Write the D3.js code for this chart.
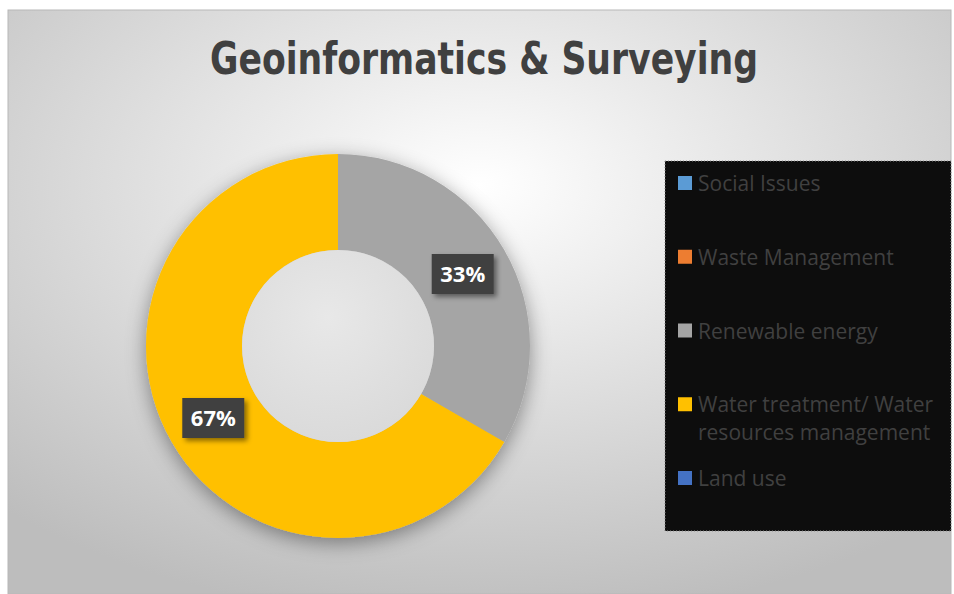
<html>
<head>
<meta charset="utf8">
<title>Geoinformatics & Surveying</title>
<style>
body { margin:0; background:#ffffff; }
#chart { width:954px; height:594px; }
</style>
<script src="https://cdn.jsdelivr.net/npm/d3@7"></script>
</head>
<body>
<div id="chart"></div>
<script>
// data
var categories = ["Social Issues", "Waste Management", "Renewable energy",
                  "Water treatment/ Water resources management", "Land use"];
var values = [0, 0, 1, 2, 0];
var colors = ["#5b9bd5", "#ed7d31", "#a5a5a5", "#ffc000", "#4472c4"];
var title = "Geoinformatics & Surveying";

var width = 954, height = 594;
var cx = 338, cy = 346;       // donut centre
var outerR = 192, innerR = 96;

var svg = d3.select("#chart").append("svg")
    .attr("width", width)
    .attr("height", height);

var defs = svg.append("defs");

// background gradient
var bg = defs.append("radialGradient").attr("id", "bg")
    .attr("cx", "50%").attr("cy", "30%").attr("r", "75%");
bg.append("stop").attr("offset", "0%").attr("stop-color", "#ffffff");
bg.append("stop").attr("offset", "100%").attr("stop-color", "#bdbdbd");

var hole = defs.append("radialGradient").attr("id", "hole")
    .attr("cx", "45%").attr("cy", "35%").attr("r", "70%");
hole.append("stop").attr("offset", "0%").attr("stop-color", "#e8e8e8");
hole.append("stop").attr("offset", "100%").attr("stop-color", "#d9d9d9");

var sh = defs.append("filter").attr("id", "shadow")
    .attr("x", "-30%").attr("y", "-30%").attr("width", "160%").attr("height", "160%");
sh.append("feDropShadow").attr("dx", 0).attr("dy", 5)
    .attr("stdDeviation", 10).attr("flood-color", "#000").attr("flood-opacity", 0.4);

var sh2 = defs.append("filter").attr("id", "boxshadow")
    .attr("x", "-30%").attr("y", "-30%").attr("width", "160%").attr("height", "160%");
sh2.append("feDropShadow").attr("dx", 3).attr("dy", 3)
    .attr("stdDeviation", 2.5).attr("flood-color", "#000").attr("flood-opacity", 0.45);

// chart area
svg.append("rect")
    .attr("x", 8).attr("y", 10)
    .attr("width", 943).attr("height", height - 10)
    .attr("fill", "url(#bg)")
    .attr("stroke", "#b8b8b8").attr("stroke-width", 1);

// title
svg.append("text")
    .attr("x", 484).attr("y", 74)
    .attr("text-anchor", "middle")
    .attr("font-family", "'Liberation Sans Narrow', 'DejaVu Sans Condensed', sans-serif")
    .attr("font-stretch", "condensed")
    .attr("font-weight", "bold")
    .attr("font-size", 45)
    .attr("fill", "#404040")
    .attr("textLength", 548)
    .attr("lengthAdjust", "spacingAndGlyphs")
    .text(title);

// donut
var pie = d3.pie().sort(null).value(function(d) { return d; });
var arcs = pie(values);
var arc = d3.arc().innerRadius(innerR).outerRadius(outerR);

var g = svg.append("g").attr("transform", "translate(" + cx + "," + cy + ")");

g.append("g").attr("filter", "url(#shadow)")
  .selectAll("path")
  .data(arcs)
  .enter().append("path")
    .attr("d", arc)
    .attr("fill", function(d, i) { return colors[i]; });

g.append("circle")
    .attr("r", innerR)
    .attr("fill", "url(#hole)");

// data labels
var fmt = d3.format(".0%");
var total = d3.sum(values);
var lab = g.selectAll(".lab")
    .data(arcs.filter(function(d) { return d.value > 0; }))
    .enter().append("g")
    .attr("class", "lab")
    .attr("transform", function(d) { return "translate(" + arc.centroid(d) + ")"; });

lab.append("rect")
    .attr("x", -31).attr("y", -20)
    .attr("width", 62).attr("height", 40)
    .attr("fill", "#404040")
    .attr("filter", "url(#boxshadow)");

lab.append("text")
    .attr("text-anchor", "middle")
    .attr("y", 8)
    .attr("font-family", "'Open Sans', sans-serif")
    .attr("font-weight", "bold")
    .attr("font-size", 22)
    .attr("fill", "#ffffff")
    .text(function(d) { return fmt(d.value / total); });

// legend
var lx = 665, ly = 161, lw = 286, lh = 370;
svg.append("rect")
    .attr("x", lx).attr("y", ly)
    .attr("width", lw).attr("height", lh)
    .attr("fill", "#0d0d0d")
    .attr("stroke", "#8a8a8a")
    .attr("stroke-width", 1)
    .attr("stroke-dasharray", "1,2");

var yLeg = d3.scaleLinear().domain([0, categories.length - 1]).range([183, 478]);

var item = svg.selectAll(".leg")
    .data(categories)
    .enter().append("g")
    .attr("class", "leg")
    .attr("transform", function(d, i) { return "translate(" + (lx + 13) + "," + yLeg(i) + ")"; });

item.append("rect")
    .attr("x", 0).attr("y", -7)
    .attr("width", 14).attr("height", 14)
    .attr("fill", function(d, i) { return colors[i]; });

item.append("text")
    .attr("x", 20).attr("y", 8)
    .attr("font-family", "'Open Sans', sans-serif")
    .attr("font-size", 21)
    .attr("fill", "#404040")
    .each(function(d) {
        var el = d3.select(this);
        var words = d.split(" ");
        var line = [];
        var tspan = el.append("tspan").attr("x", 20).attr("dy", 0);
        var maxW = 252;
        words.forEach(function(w) {
            line.push(w);
            tspan.text(line.join(" "));
            if (tspan.node().getComputedTextLength() > maxW && line.length > 1) {
                line.pop();
                tspan.text(line.join(" "));
                line = [w];
                tspan = el.append("tspan").attr("x", 20).attr("dy", 28).text(w);
            }
        });
    });
</script>
</body>
</html>
